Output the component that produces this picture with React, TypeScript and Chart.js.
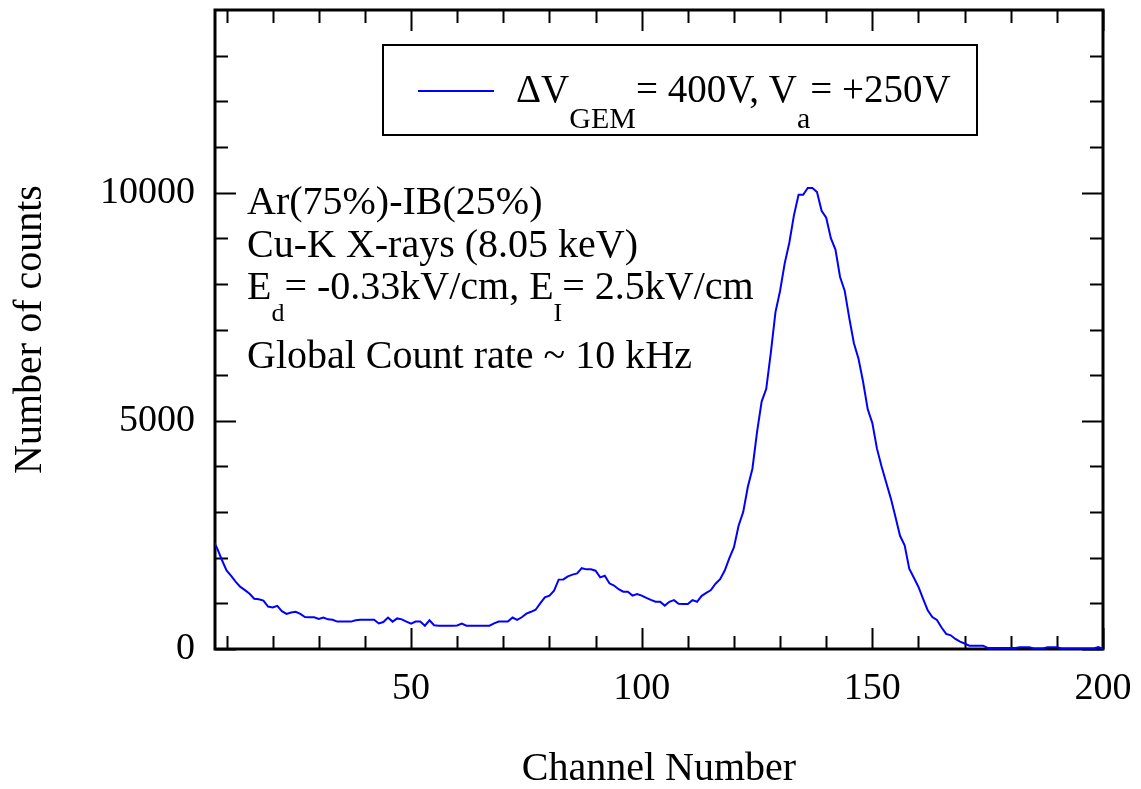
import React, { useEffect, useRef } from "react";
import { Chart, registerables } from "chart.js";

Chart.register(...registerables);

// ---- data ----
const channels = [
  7, 8, 9,
  10, 11, 12, 13, 14, 15, 16, 17, 18, 19,
  20, 21, 22, 23, 24, 25, 26, 27, 28, 29,
  30, 31, 32, 33, 34, 35, 36, 37, 38, 39,
  40, 41, 42, 43, 44, 45, 46, 47, 48, 49,
  50, 51, 52, 53, 54, 55, 56, 57, 58, 59,
  60, 61, 62, 63, 64, 65, 66, 67, 68, 69,
  70, 71, 72, 73, 74, 75, 76, 77, 78, 79,
  80, 81, 82, 83, 84, 85, 86, 87, 88, 89,
  90, 91, 92, 93, 94, 95, 96, 97, 98, 99,
  100, 101, 102, 103, 104, 105, 106, 107, 108, 109,
  110, 111, 112, 113, 114, 115, 116, 117, 118, 119,
  120, 121, 122, 123, 124, 125, 126, 127, 128, 129,
  130, 131, 132, 133, 134, 135, 136, 137, 138, 139,
  140, 141, 142, 143, 144, 145, 146, 147, 148, 149,
  150, 151, 152, 153, 154, 155, 156, 157, 158, 159,
  160, 161, 162, 163, 164, 165, 166, 167, 168, 169,
  170, 171, 172, 173, 174, 175, 176, 177, 178, 179,
  180, 181, 182, 183, 184, 185, 186, 187, 188, 189,
  190, 191, 192, 193, 194, 195, 196, 197, 198, 199,
  200,
];

const counts = [
  2400, 2200, 1950,
  1720, 1600, 1470, 1360, 1290, 1210, 1100, 1090, 1060, 930,
  910, 945, 830, 770, 800, 815, 770, 700, 695, 695,
  660, 690, 650, 640, 600, 600, 600, 600, 630, 640,
  640, 640, 640, 560, 590, 690, 600, 670, 650, 600,
  555, 600, 600, 510, 630, 520, 510, 510, 510, 510,
  515, 555, 510, 510, 510, 510, 510, 510, 560, 600,
  600, 600, 690, 640, 695, 775, 815, 860, 1000, 1130,
  1170, 1280, 1520, 1525, 1590, 1630, 1655, 1770, 1745, 1745,
  1715, 1570, 1605, 1440, 1390, 1310, 1255, 1255, 1170, 1205,
  1170, 1120, 1075, 1035, 1035, 950, 1035, 1070, 990, 985,
  985, 1070, 1035, 1165, 1230, 1290, 1430, 1530, 1720, 1990,
  2230, 2700, 3000, 3550, 3950, 4750, 5420, 5700, 6500, 7380,
  7850, 8450, 8900, 9500, 9950, 9950, 10100, 10100, 10010, 9600,
  9450, 9000, 8750, 8150, 7850, 7250, 6700, 6360, 5850, 5250,
  4950, 4390, 4000, 3650, 3300, 2900, 2480, 2270, 1760, 1560,
  1360, 1100, 850, 700, 635, 470, 330, 300, 220, 160,
  120, 72, 72, 72, 72, 22, 22, 22, 22, 22,
  22, 22, 40, 40, 40, 10, 10, 10, 40, 40,
  40, 10, 10, 10, 10, 10, 10, 10, 10, 40,
  0,
];

const xMajorTicks = [50, 100, 150, 200];
const xMinorTicks = [10, 20, 30, 40, 60, 70, 80, 90, 110, 120, 130, 140, 160, 170, 180, 190];
const yMajorTicks = [0, 5000, 10000];
const yMinorTicks = [1000, 2000, 3000, 4000, 6000, 7000, 8000, 9000, 11000, 12000, 13000];

const xTitle = "Channel Number";
const yTitle = "Number of counts";

type Part = { t: string; sub?: boolean };
const legendParts: Part[] = [
  { t: "\u0394V" },
  { t: "GEM", sub: true },
  { t: "= 400V, V" },
  { t: "a", sub: true },
  { t: "= +250V" },
];
const infoLines: Part[][] = [
  [{ t: "Ar(75%)-IB(25%)" }],
  [{ t: "Cu-K X-rays (8.05 keV)" }],
  [
    { t: "E" },
    { t: "d", sub: true },
    { t: "= -0.33kV/cm, E" },
    { t: "I", sub: true },
    { t: "= 2.5kV/cm" },
  ],
  [{ t: "Global Count rate ~ 10 kHz" }],
];

// ---- styles ----
const FONT = '"Liberation Serif", "Times New Roman", Times, serif';
const LINE_COLOR = "rgb(0,0,255)";

function drawRich(
  ctx: CanvasRenderingContext2D,
  parts: Part[],
  x: number,
  y: number,
  size: number,
  subSize: number,
  subDrop: number
) {
  let cx = x;
  for (const p of parts) {
    const s = p.sub ? subSize : size;
    ctx.font = `${s}px ${FONT}`;
    ctx.fillText(p.t, cx, p.sub ? y + subDrop : y);
    cx += ctx.measureText(p.t).width;
  }
}

const framePlugin = {
  id: "framePlugin",
  beforeDatasetsDraw(chart: any) {
    const { ctx, chartArea: a, scales } = chart;
    const xs = scales.x;
    const ys = scales.y;
    ctx.save();
    ctx.strokeStyle = "#000";
    ctx.lineWidth = 2;
    ctx.beginPath();
    const major = 21;
    const minor = 13;
    for (const v of xMajorTicks) {
      const p = Math.round(xs.getPixelForValue(v)) + 0.5;
      ctx.moveTo(p, a.bottom);
      ctx.lineTo(p, a.bottom - major);
      ctx.moveTo(p, a.top);
      ctx.lineTo(p, a.top + major);
    }
    for (const v of xMinorTicks) {
      const p = Math.round(xs.getPixelForValue(v)) + 0.5;
      ctx.moveTo(p, a.bottom);
      ctx.lineTo(p, a.bottom - minor);
      ctx.moveTo(p, a.top);
      ctx.lineTo(p, a.top + minor);
    }
    for (const v of yMajorTicks) {
      const p = Math.round(ys.getPixelForValue(v)) + 0.5;
      ctx.moveTo(a.left, p);
      ctx.lineTo(a.left + major, p);
      ctx.moveTo(a.right, p);
      ctx.lineTo(a.right - major, p);
    }
    for (const v of yMinorTicks) {
      const p = Math.round(ys.getPixelForValue(v)) + 0.5;
      ctx.moveTo(a.left, p);
      ctx.lineTo(a.left + minor, p);
      ctx.moveTo(a.right, p);
      ctx.lineTo(a.right - minor, p);
    }
    ctx.stroke();
    ctx.lineWidth = 3;
    ctx.strokeRect(a.left, a.top, a.right - a.left, a.bottom - a.top);
    ctx.restore();
  },
  afterDraw(chart: any) {
    const { ctx, chartArea: a } = chart;
    ctx.save();
    // legend box
    const bx = a.left + 168;
    const by = a.top + 35;
    const bw = 594;
    const bh = 90;
    ctx.fillStyle = "#fff";
    ctx.fillRect(bx, by, bw, bh);
    ctx.strokeStyle = "#000";
    ctx.lineWidth = 2;
    ctx.strokeRect(bx, by, bw, bh);
    ctx.strokeStyle = LINE_COLOR;
    ctx.lineWidth = 2;
    ctx.beginPath();
    ctx.moveTo(bx + 35, by + 46);
    ctx.lineTo(bx + 111, by + 46);
    ctx.stroke();
    ctx.fillStyle = "#000";
    ctx.textBaseline = "alphabetic";
    ctx.textAlign = "left";
    drawRich(ctx, legendParts, bx + 133, by + 57, 39, 30, 26);
    // info text
    const tx = a.left + 32;
    const baselines = [214, 257, 299, 368];
    infoLines.forEach((line, i) => {
      drawRich(ctx, line, tx, baselines[i], 40, 26, 22);
    });
    ctx.restore();
  },
};

export default function App() {
  const ref = useRef<HTMLCanvasElement | null>(null);

  useEffect(() => {
    const canvas = ref.current;
    if (!canvas) return;
    const data = channels.map((c, i) => ({ x: c, y: counts[i] }));
    const chart = new Chart(canvas, {
      type: "line",
      data: {
        datasets: [
          {
            data,
            borderColor: LINE_COLOR,
            borderWidth: 2,
            pointRadius: 0,
            tension: 0,
            fill: false,
          },
        ],
      },
      options: {
        responsive: false,
        animation: false,
        devicePixelRatio: 1,
        layout: { padding: { top: 10, right: 38, left: 0, bottom: 0 } },
        plugins: { legend: { display: false }, tooltip: { enabled: false } },
        scales: {
          x: {
            type: "linear",
            min: 7.5,
            max: 200,
            grid: { display: false, drawTicks: false },
            border: { display: false },
            afterBuildTicks: (s: any) => {
              s.ticks = xMajorTicks.map((v) => ({ value: v }));
            },
            afterFit: (s: any) => {
              s.height = 140;
              s.paddingLeft = 0;
              s.paddingRight = 0;
              s.paddingTop = 0;
              s.paddingBottom = 0;
            },
            ticks: {
              font: { family: FONT, size: 38 },
              color: "#000",
              padding: 17,
              maxRotation: 0,
              autoSkip: false,
              callback: (v: any) => String(v),
            },
            title: {
              display: true,
              text: xTitle,
              color: "#000",
              font: { family: FONT, size: 40, lineHeight: 1 },
              padding: { top: 0, bottom: 0 },
            },
          },
          y: {
            type: "linear",
            min: 0,
            max: 14000,
            grid: { display: false, drawTicks: false },
            border: { display: false },
            afterBuildTicks: (s: any) => {
              s.ticks = yMajorTicks.map((v) => ({ value: v }));
            },
            afterFit: (s: any) => {
              s.width = 215;
              s.paddingLeft = 0;
              s.paddingRight = 0;
              s.paddingTop = 0;
              s.paddingBottom = 0;
            },
            ticks: {
              font: { family: FONT, size: 38 },
              color: "#000",
              padding: 20,
              autoSkip: false,
              callback: (v: any) => String(v),
            },
            title: {
              display: true,
              text: yTitle,
              color: "#000",
              font: { family: FONT, size: 40, lineHeight: 1 },
              padding: { top: 10, bottom: 0 },
            },
          },
        },
      },
      plugins: [framePlugin],
    } as any);
    return () => chart.destroy();
  }, []);

  return (
    <div style={{ position: "fixed", left: 0, top: 0, width: 1141, height: 789, background: "#fff" }}>
      <canvas ref={ref} width={1141} height={789} style={{ width: 1141, height: 789, display: "block" }} />
    </div>
  );
}
